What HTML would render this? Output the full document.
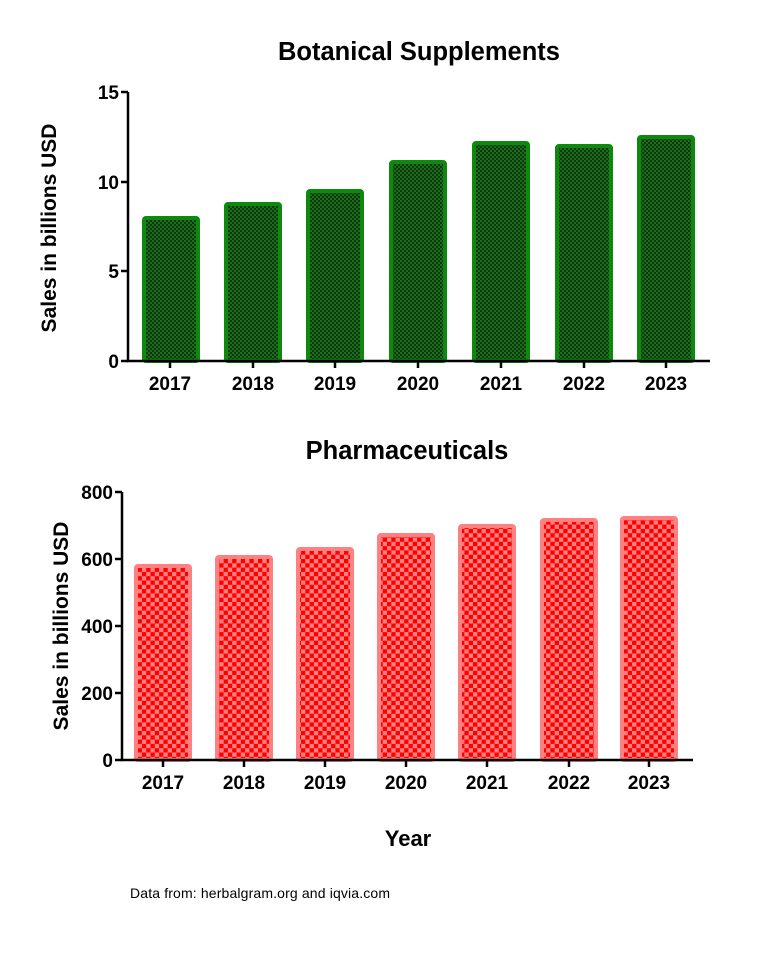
<!DOCTYPE html><html><head><style>body{margin:0;background:#fff}</style></head><body>
<svg width="768" height="956" xmlns="http://www.w3.org/2000/svg" font-family="Liberation Sans, Arial, sans-serif" font-weight="bold">
<defs>
<pattern id="g" width="4" height="4" patternUnits="userSpaceOnUse"><rect width="4" height="4" fill="#0a3a0a"/><rect width="2" height="2" fill="#1f6b1f"/><rect x="2" y="2" width="2" height="2" fill="#1f6b1f"/></pattern>
<pattern id="r" width="8.6" height="8.6" patternUnits="userSpaceOnUse"><rect width="8.6" height="8.6" fill="#ff8080"/><rect width="4.3" height="4.3" fill="#ff0000"/><rect x="4.3" y="4.3" width="4.3" height="4.3" fill="#ff0000"/></pattern>
</defs>
<text x="419" y="60" font-size="25.5" text-anchor="middle">Botanical Supplements</text>
<g fill="url(#g)" stroke="#0d8a0d" stroke-width="4">
<rect x="144" y="218" width="54" height="143" rx="2"/>
<rect x="226" y="204" width="54" height="157" rx="2"/>
<rect x="308" y="191" width="54" height="170" rx="2"/>
<rect x="391" y="162" width="54" height="199" rx="2"/>
<rect x="474" y="143" width="54" height="218" rx="2"/>
<rect x="557" y="146" width="54" height="215" rx="2"/>
<rect x="639" y="137" width="54" height="224" rx="2"/>
</g>
<g stroke="#000" stroke-width="2.5" fill="none">
<path d="M128 92V361H710"/>
<path d="M121 92H128M121 182H128M121 271H128M121 361H128"/>
<path d="M170 361v7M253 361v7M335 361v7M418 361v7M501 361v7M584 361v7M666 361v7"/>
</g>
<g font-size="19" text-anchor="end"><text x="119" y="99">15</text><text x="119" y="189">10</text><text x="119" y="278">5</text><text x="119" y="368">0</text></g>
<g font-size="19" text-anchor="middle"><text x="170" y="390">2017</text><text x="253" y="390">2018</text><text x="335" y="390">2019</text><text x="418" y="390">2020</text><text x="501" y="390">2021</text><text x="584" y="390">2022</text><text x="666" y="390">2023</text></g>
<text transform="translate(56 228) rotate(-90)" font-size="21" text-anchor="middle">Sales in billions USD</text>

<text x="407" y="459" font-size="25.5" text-anchor="middle">Pharmaceuticals</text>
<g fill="url(#r)" stroke="#ff8080" stroke-width="4">
<rect x="136" y="566" width="54" height="194" rx="2"/>
<rect x="217" y="557" width="54" height="203" rx="2"/>
<rect x="298" y="549" width="54" height="211" rx="2"/>
<rect x="379" y="535" width="54" height="225" rx="2"/>
<rect x="460" y="526" width="54" height="234" rx="2"/>
<rect x="542" y="520" width="54" height="240" rx="2"/>
<rect x="622" y="518" width="54" height="242" rx="2"/>
</g>
<g stroke="#000" stroke-width="2.5" fill="none">
<path d="M122 492V760H693"/>
<path d="M115 492H122M115 559H122M115 626H122M115 693H122M115 760H122"/>
<path d="M163 760v7M244 760v7M325 760v7M406 760v7M487 760v7M569 760v7M649 760v7"/>
</g>
<g font-size="19" text-anchor="end"><text x="113" y="499">800</text><text x="113" y="566">600</text><text x="113" y="633">400</text><text x="113" y="700">200</text><text x="113" y="767">0</text></g>
<g font-size="19" text-anchor="middle"><text x="163" y="789">2017</text><text x="244" y="789">2018</text><text x="325" y="789">2019</text><text x="406" y="789">2020</text><text x="487" y="789">2021</text><text x="569" y="789">2022</text><text x="649" y="789">2023</text></g>
<text transform="translate(68 626) rotate(-90)" font-size="21" text-anchor="middle">Sales in billions USD</text>
<text x="408" y="846" font-size="22" text-anchor="middle">Year</text>
<text x="130" y="898" font-size="14" font-weight="normal" textLength="260">Data from: herbalgram.org and iqvia.com</text>
</svg>
</body></html>
